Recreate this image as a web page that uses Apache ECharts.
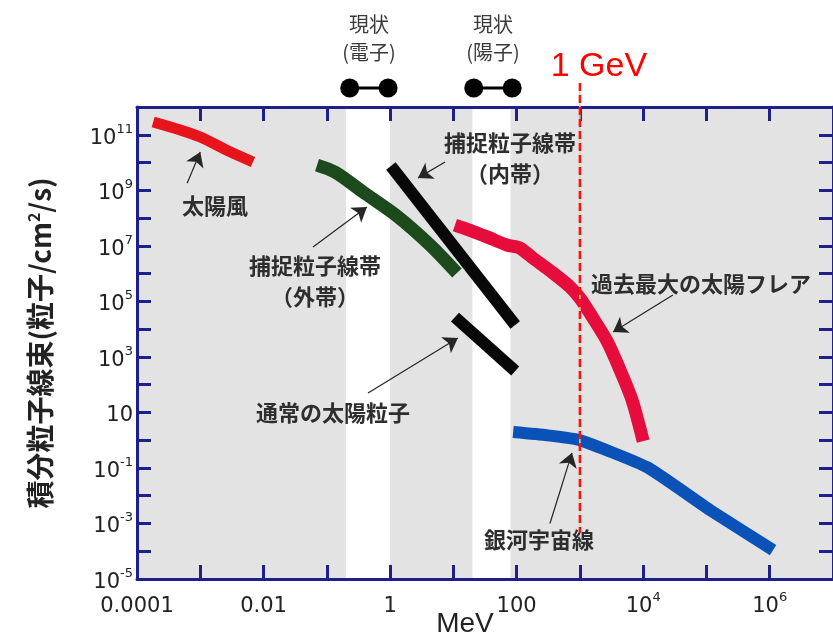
<!DOCTYPE html>
<html>
<head>
<meta charset="utf-8">
<script src="https://cdn.jsdelivr.net/npm/echarts@6/dist/echarts.min.js"></script>
<style>
  html, body { margin: 0; padding: 0; background: #fff; }
  #chart { width: 833px; height: 634px; }
</style>
</head>
<body>
<div id="chart"></div>
<script>
// Integral particle flux (particles/cm²/s) versus energy (MeV)
const solarWindE = [1.8e-4, 4e-4, 1e-3, 2.6e-3, 6.8e-3];
const solarWindF = [2.9e11, 1.7e11, 8.3e10, 2.8e10, 1.05e10];

const outerBeltE = [0.07, 0.135, 0.373, 1.29, 4.28, 11.4];
const outerBeltF = [8.1e9, 4.5e9, 8.7e8, 1.18e8, 1.07e7, 1.05e6];

const innerBeltE = [1.03, 95];
const innerBeltF = [7.5e9, 1.4e4];

const solarParticleE = [10.6, 95];
const solarParticleF = [2.7e4, 310];

const flareE = [10.6, 18, 34, 70, 113, 181, 376, 700, 1000, 1610, 2680, 4300, 6670, 10000];
const flareF = [5.6e7, 3.7e7, 2.1e7, 1.07e7, 8.3e6, 3.6e6, 1.05e6, 3.3e5, 1.3e5, 2.5e4, 3.7e3, 340, 28, 0.93];

const cosmicRayE = [88, 300, 1000, 11500, 1.15e5, 1.13e6];
const cosmicRayF = [1.96, 1.5, 1.0, 0.107, 3.0e-3, 1.1e-4];

// Energy ranges available today (electrons / protons)
const electronBand = [0.2, 1];
const protonBand = [20, 80];
const electronMarks = [0.23, 0.93];
const protonMarks = [21, 85];
const electronText = '現状\n(電子)';
const protonText = '現状\n(陽子)';

// 1 GeV reference line
const gevEnergy = 1000;
const gevSpan = [7.3e12, 4.5e-4];
const gevText = '1 GeV';

// Curve annotations: label position, arrow tail, arrow head (MeV, flux)
const noteTexts = ['太陽風', '捕捉粒子線帯\n（外帯）', '捕捉粒子線帯\n（内帯）', '通常の太陽粒子', '過去最大の太陽フレア', '銀河宇宙線'];
const noteAt = [[1.71e-3, 2.9e8], [0.065, 5.4e5], [78.5, 1.45e10], [0.125, 10.2], [8.2e4, 4.2e5], [226, 2.7e-4]];
const arrowFrom = [[6.2e-4, 1.8e9], [0.0605, 9.1e6], [7.4, 1.05e10], [0.448, 50], [2.95e4, 1.7e5], [336, 1.0e-3]];
const arrowTo = [[1e-3, 2.4e10], [0.43, 2.5e8], [2.76, 2.8e9], [11.8, 4.8e3], [3340, 7.8e3], [750, 0.35]];

// Axis tick labels
const xTickExps = [-4, -2, 0, 2, 4, 6];
const xTickLabels = ['0.0001', '0.01', '1', '100', '10^4', '10^6'];
const yTickExps = [11, 9, 7, 5, 3, 1, -1, -3, -5];
const yTickLabels = ['10^11', '10^9', '10^7', '10^5', '10^3', '10', '10^-1', '10^-3', '10^-5'];

const FONT_NUM = '"DejaVu Sans", sans-serif';
const FONT_JP = '"Noto Sans CJK JP", sans-serif';
const FONT_LAT = '"Liberation Sans", Arial, sans-serif';
const AXIS_COLOR = '#1e1e8c';

function toRich(s) {
  const p = s.split('^');
  return p.length > 1 ? '{b|' + p[0] + '}{s|' + p[1] + '}' : '{b|' + p[0] + '}';
}
function tickFormatter(exps, labels) {
  return function (v) {
    const e = Math.round(Math.log10(v));
    const i = exps.indexOf(e);
    return i < 0 ? '' : toRich(labels[i]);
  };
}
const tickRich = {
  b: { fontFamily: FONT_NUM, fontSize: 21, color: '#222', lineHeight: 24, padding: [7, 0, 0, 0] },
  s: { fontFamily: FONT_NUM, fontSize: 13, color: '#222', lineHeight: 14, verticalAlign: 'top' }
};

const frameAxis = {
  axisLine: { show: true, onZero: false, lineStyle: { color: AXIS_COLOR, width: 3 } },
  axisTick: { show: true, inside: true, length: 14, lineStyle: { color: AXIS_COLOR, width: 3 } },
  splitLine: { show: false },
  z: 5
};

function pairs(E, F) { return E.map((e, i) => [e, F[i]]); }

function curve(name, E, F, color, width, smooth) {
  return {
    type: 'line', name: name, xAxisIndex: 0, yAxisIndex: 0,
    data: pairs(E, F), symbol: 'none', showSymbol: false, smooth: smooth,
    lineStyle: { color: color, width: width, cap: 'butt', join: 'round' },
    z: 3, silent: true
  };
}

function dumbbell(marks, text) {
  const mid = Math.sqrt(marks[0] * marks[1]);
  return {
    type: 'line', xAxisIndex: 2, yAxisIndex: 2,
    data: marks.map(m => [m, 0.5]),
    symbol: 'circle', symbolSize: 19, showSymbol: true,
    itemStyle: { color: '#000' },
    lineStyle: { color: '#000', width: 3 },
    silent: true,
    markPoint: {
      silent: true, symbol: 'circle', symbolSize: 1,
      itemStyle: { color: 'rgba(0,0,0,0)' },
      label: {
        show: true, position: 'inside', offset: [0, -50], formatter: text,
        fontFamily: FONT_JP, fontSize: 20, lineHeight: 28, color: '#3a3a3a', align: 'center'
      },
      data: [{ coord: [mid, 0.5] }]
    }
  };
}

const chart = echarts.init(document.getElementById('chart'), null, { renderer: 'canvas' });

chart.setOption({
  animation: false,
  backgroundColor: '#fff',
  grid: [
    { left: 137, right: 0, top: 107, bottom: 55, show: true, backgroundColor: '#e3e3e3', borderWidth: 0,
      containLabel: false, outerBoundsMode: 'none' },
    { left: 137, right: 0, top: 78, height: 20, show: false, containLabel: false, outerBoundsMode: 'none' }
  ],
  xAxis: [
    Object.assign({}, frameAxis, {
      type: 'log', gridIndex: 0, position: 'bottom', min: 1e-4, max: 1e7, interval: 1, logBase: 10,
      axisLabel: { margin: 12, formatter: tickFormatter(xTickExps, xTickLabels), rich: tickRich },
      name: 'MeV', nameLocation: 'middle', nameGap: 31, nameMoveOverlap: false,
      nameTextStyle: { fontFamily: FONT_LAT, fontSize: 28, color: '#222', padding: [0, 40, 0, 0] }
    }),
    Object.assign({}, frameAxis, {
      type: 'log', gridIndex: 0, position: 'top', min: 1e-4, max: 1e7, interval: 1, logBase: 10,
      axisLabel: { show: false }
    }),
    { type: 'log', gridIndex: 1, min: 1e-4, max: 1e7, show: false }
  ],
  yAxis: [
    Object.assign({}, frameAxis, {
      type: 'log', gridIndex: 0, position: 'left', min: 1e-5, max: 1e12, interval: 1, logBase: 10,
      axisLabel: { margin: 4, formatter: tickFormatter(yTickExps, yTickLabels), rich: tickRich },
      name: '積分粒子線束(粒子/cm{s|2}/s)', nameLocation: 'middle', nameGap: 83,
      nameTextStyle: {
        fontFamily: FONT_JP, fontSize: 28, fontWeight: 'bold', color: '#222',
        rich: { s: { fontFamily: FONT_JP, fontSize: 16, fontWeight: 'bold', color: '#222', verticalAlign: 'top' } }
      }
    }),
    Object.assign({}, frameAxis, {
      type: 'log', gridIndex: 0, position: 'right', min: 1e-5, max: 1e12, interval: 1, logBase: 10,
      axisLabel: { show: false }
    }),
    { type: 'value', gridIndex: 1, min: 0, max: 1, show: false }
  ],
  series: [
    // white energy bands
    {
      type: 'line', xAxisIndex: 0, yAxisIndex: 0, data: [[1, 1]], symbol: 'none', showSymbol: false,
      lineStyle: { opacity: 0 }, z: 1, silent: true,
      markArea: {
        silent: true, itemStyle: { color: '#ffffff' },
        data: [
          [{ xAxis: electronBand[0] }, { xAxis: electronBand[1] }],
          [{ xAxis: protonBand[0] }, { xAxis: protonBand[1] }]
        ]
      }
    },
    curve('太陽風', solarWindE, solarWindF, '#e8141c', 11, 0.3),
    curve('捕捉粒子線帯（外帯）', outerBeltE, outerBeltF, '#1d4a1d', 13, 0.3),
    curve('捕捉粒子線帯（内帯）', innerBeltE, innerBeltF, '#080808', 12, false),
    curve('通常の太陽粒子', solarParticleE, solarParticleF, '#080808', 12, false),
    curve('過去最大の太陽フレア', flareE, flareF, '#e60c3c', 13, 0.25),
    curve('銀河宇宙線', cosmicRayE, cosmicRayF, '#0a52b8', 12, 0.15),
    // annotation labels and arrows
    {
      type: 'line', xAxisIndex: 0, yAxisIndex: 0, data: [[1, 1]], symbol: 'none', showSymbol: false,
      lineStyle: { opacity: 0 }, z: 4, silent: true,
      markPoint: {
        silent: true, symbol: 'circle', symbolSize: 1,
        itemStyle: { color: 'rgba(0,0,0,0)' },
        label: {
          show: true, position: 'inside', fontFamily: FONT_JP, fontSize: 22, fontWeight: 'bold',
          lineHeight: 31, color: '#2e2e2e', align: 'center'
        },
        data: noteTexts.map((t, i) => ({ coord: noteAt[i], label: { formatter: t } }))
      },
      markLine: {
        silent: true, symbol: ['none', 'arrow'], symbolSize: 14,
        label: { show: false },
        lineStyle: { color: '#262626', width: 1.2, type: 'solid' },
        emphasis: { disabled: true },
        data: arrowFrom.map((f, i) => [{ coord: f }, { coord: arrowTo[i] }])
      }
    },
    // 1 GeV marker line
    {
      type: 'line', xAxisIndex: 0, yAxisIndex: 0, clip: false, silent: true, z: 6,
      data: gevSpan.map(f => [gevEnergy, f]), symbol: 'none', showSymbol: false,
      lineStyle: { color: '#bfe3a8', width: 1.5 }
    },
    {
      type: 'line', xAxisIndex: 0, yAxisIndex: 0, clip: false, silent: true, z: 7,
      data: gevSpan.map((f, i) => i === 0
        ? { value: [gevEnergy, f], label: { show: true, formatter: gevText } }
        : [gevEnergy, f]),
      symbol: 'circle', symbolSize: 0, showSymbol: true,
      itemStyle: { color: 'rgba(0,0,0,0)' },
      label: { position: 'inside', offset: [19, -16], fontFamily: FONT_LAT, fontSize: 34, color: '#ff0000' },
      lineStyle: { color: '#ff1010', width: 2.5, type: [8, 4] }
    },
    dumbbell(electronMarks, electronText),
    dumbbell(protonMarks, protonText)
  ]
});
</script>
</body>
</html>
